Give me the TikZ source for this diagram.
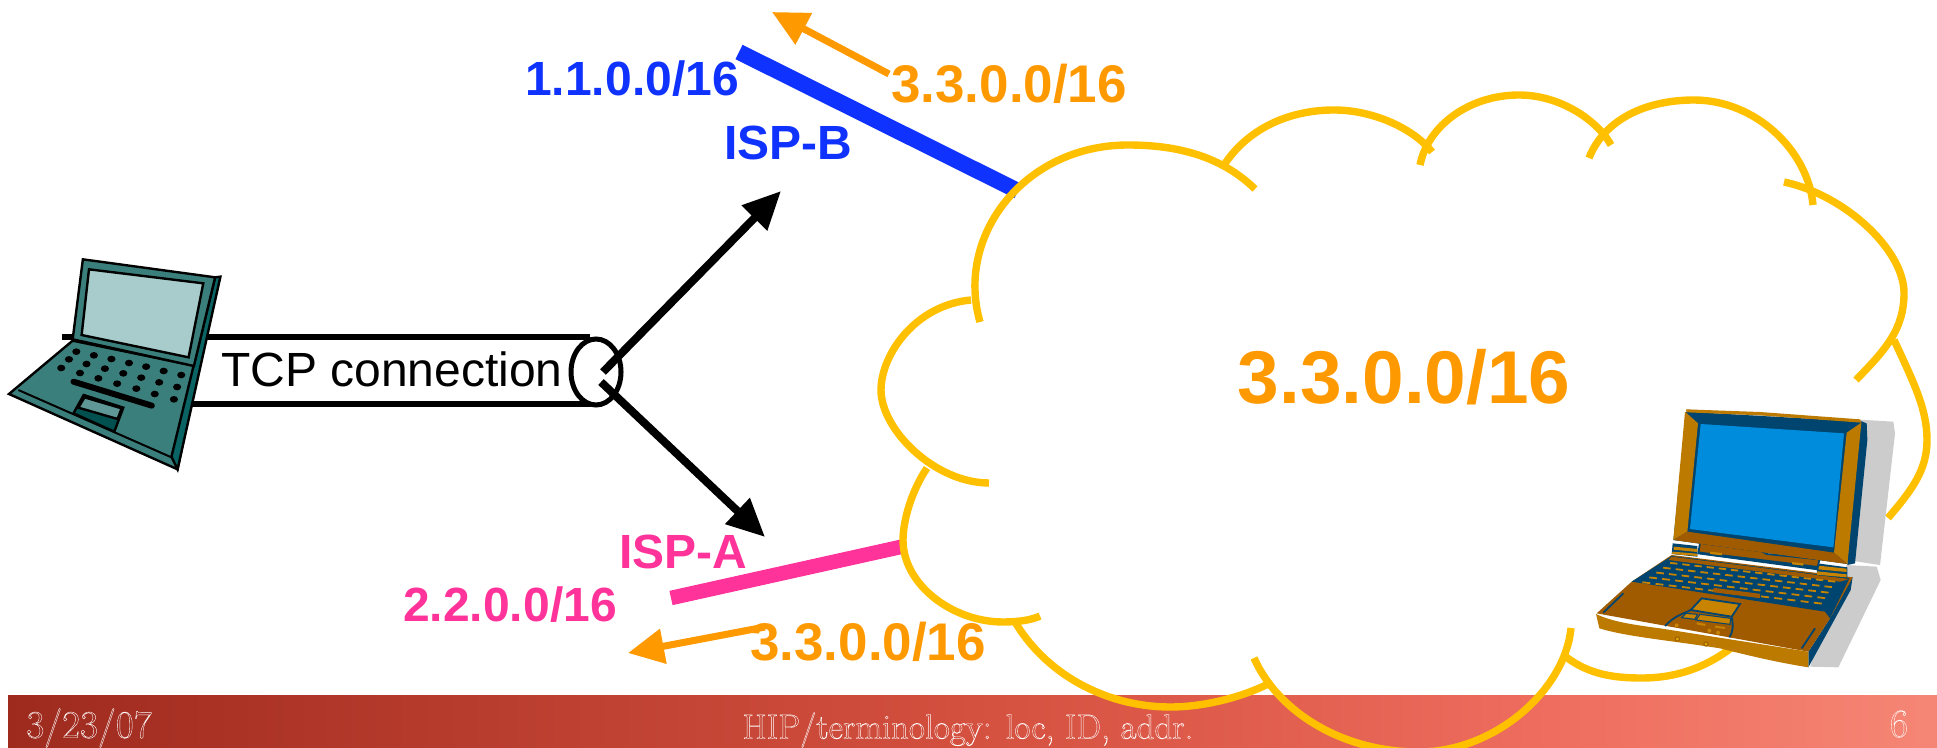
\documentclass[tikz,border=0pt]{standalone}
\usepackage{fontspec}
\usetikzlibrary{arrows.meta,shapes.geometric}
\newfontfamily\arialf{Liberation Sans}
\newfontfamily\footf{Latin Modern Roman}
\definecolor{cloudc}{HTML}{FFC000}
\definecolor{orangec}{HTML}{FF9900}
\definecolor{bluec}{HTML}{0F32FF}
\definecolor{pinkc}{HTML}{FF3399}
\definecolor{foota}{HTML}{9E2A1E}
\definecolor{footb}{HTML}{D4503F}
\definecolor{footc}{HTML}{EE6D5E}
\definecolor{footd}{HTML}{F58675}
\pgfdeclarehorizontalshading{footbar}{100bp}{color(0bp)=(foota); color(25bp)=(foota); color(50bp)=(footb); color(65bp)=(footc); color(75bp)=(footd); color(100bp)=(footd)}
\definecolor{tealc}{HTML}{3B7F7D}
\definecolor{tealside}{HTML}{0A6464}
\definecolor{tealdark}{HTML}{005050}
\definecolor{teallite}{HTML}{5F9797}
\definecolor{screenl}{HTML}{A8CCCC}
\definecolor{goldc}{HTML}{BC7A00}
\definecolor{brownc}{HTML}{A05A00}
\definecolor{navyc}{HTML}{00456F}
\definecolor{screenr}{HTML}{008CDC}
\definecolor{shadowc}{HTML}{CCCCCC}
\definecolor{keyc}{HTML}{C88400}
\newcommand{\hollow}[1]{\special{pdf:code 1 Tr 0.2 w}#1\special{pdf:code 0 Tr}}
\tikzset{
  cloudarc/.style={draw=cloudc,line width=3.7pt,line cap=butt},
  isp/.style={inner sep=0pt,font=\arialf\fontsize{24pt}{26pt}\selectfont\bfseries},
  addr/.style={isp,text=orangec,font=\arialf\fontsize{26.5pt}{28pt}\selectfont\bfseries},
  footlabel/.style={inner sep=0pt,text=white,font=\footf\fontsize{17.5pt}{20pt}\selectfont},
  tube/.style={draw=black,line width=3pt},
  blackarrow/.style={draw=black,line width=4pt,-{Triangle[length=19pt,width=17pt]}},
  orangearrow/.style={draw=orangec,line width=3.5pt,-{Triangle[length=18pt,width=17pt]}},
  ink/.style={draw=black,line width=1.2pt,line join=miter},
  nv/.style={draw=navyc,line width=0.5pt},
}
\begin{document}
\begin{tikzpicture}[x=0.5pt,y=-0.5pt]
\useasboundingbox (0,0) rectangle (1937,748);
\clip (0,0) rectangle (1937,748);
% footer
\shade[shading=footbar] (8,695) rectangle (1937,748);
\node[footlabel,font=\footf\fontsize{19.5pt}{21pt}\selectfont] (fdate) at (89,728) {\hollow{3/23/07}};
\node[footlabel] (ftitle) at (968,730) {\hollow{HIP/terminology: loc, ID, addr.}};
\node[footlabel,font=\footf\fontsize{20pt}{22pt}\selectfont] (fnum) at (1899,724) {\hollow{6}};
% ISP lines
\coordinate (bl1) at (739,52); \coordinate (bl2) at (1018,191);
\coordinate (pk1) at (671,598); \coordinate (pk2) at (905,546);
\draw[draw=bluec,line width=8pt] (bl1) -- (bl2);
\draw[draw=pinkc,line width=7.3pt] (pk1) -- (pk2);
% cloud
\draw[cloudarc] (980,322) .. controls (955,235) and (1025,145) .. (1128,145) .. controls (1175,145) and (1220,155) .. (1255,189);
\draw[cloudarc] (1224,165) .. controls (1247,130) and (1287,110) .. (1334,110) .. controls (1375,110) and (1415,130) .. (1432,152);
\draw[cloudarc] (1420,165) .. controls (1428,125) and (1470,95) .. (1519,95) .. controls (1560,95) and (1597,120) .. (1611,145);
\draw[cloudarc] (1589,158) .. controls (1604,120) and (1645,100) .. (1694,100) .. controls (1755,100) and (1808,150) .. (1813,205);
\draw[cloudarc] (1784,182) .. controls (1845,195) and (1904,250) .. (1904,293) .. controls (1904,330) and (1885,350) .. (1856,380);
\draw[cloudarc] (1894,340) .. controls (1915,385) and (1927,410) .. (1927,440) .. controls (1927,470) and (1912,490) .. (1888,518);
\draw[cloudarc] (971,300) .. controls (915,305) and (881,355) .. (881,390) .. controls (881,430) and (935,483) .. (989,483);
\draw[cloudarc] (927,468) .. controls (912,490) and (903,520) .. (903,540) .. controls (903,585) and (953,622) .. (1003,622) .. controls (1018,622) and (1032,620) .. (1040,616);
\draw[cloudarc] (1015,622) .. controls (1050,680) and (1113,707) .. (1170,707) .. controls (1208,707) and (1247,695) .. (1270,683);
\draw[cloudarc] (1254,658) .. controls (1277,710) and (1340,752) .. (1419,752) .. controls (1495,752) and (1565,690) .. (1571,628);
\draw[cloudarc] (1566,657) .. controls (1590,675) and (1615,678) .. (1642,678) .. controls (1680,678) and (1710,665) .. (1735,645);
% tube
\coordinate (tl1) at (62,337); \coordinate (tl2) at (590,337);
\coordinate (bt1) at (180,404); \coordinate (bt2) at (590,404);
\draw[tube] (tl1) -- (tl2);
\draw[tube] (bt1) -- (bt2);
\node[draw=black,fill=white,line width=2.5pt,ellipse,inner sep=0pt,minimum width=25pt,minimum height=33pt] (tubeend) at (596,372) {};
\node[inner sep=0pt,font=\arialf\fontsize{24pt}{26pt}\selectfont] (tcp) at (392,369) {TCP connection};
% arrows
\coordinate (upS) at (603,372); \coordinate (upT) at (781,191);
\coordinate (dnS) at (601,382); \coordinate (dnT) at (765,537);
\draw[blackarrow] (upS) -- (upT);
\draw[blackarrow] (dnS) -- (dnT);
\coordinate (o1S) at (889,74); \coordinate (o1T) at (772,12);
\coordinate (o2S) at (765,627); \coordinate (o2T) at (628,653);
\draw[orangearrow] (o1S) -- (o1T);
\draw[orangearrow] (o2S) -- (o2T);
% labels
\node[addr] (a1) at (1009,84) {3.3.0.0/16};
\node[isp,text=bluec] (b1) at (632,79) {1.1.0.0/16};
\node[isp,text=bluec] (b2) at (788,143) {ISP-B};
\node[isp,text=pinkc] (p1) at (683,552) {ISP-A};
\node[isp,text=pinkc] (p2) at (510,605) {2.2.0.0/16};
\node[addr] (a2) at (868,642) {3.3.0.0/16};
\node[inner sep=0pt,text=orangec,font=\arialf\fontsize{37.4pt}{40pt}\selectfont\bfseries] (big) at (1404,377) {3.3.0.0/16};
% left laptop (zoom coordinates)
\begin{scope}[shift={(0,240)},x=0.2041pt,y=-0.16667pt]
\path[ink,fill=tealc] (178,302) -- (487,380) -- (435,688) -- (22,462) -- cycle;
\path[ink,fill=tealside] (527,112) -- (540,110) -- (435,688) -- (420,650) -- cycle;
\draw[black,line width=1pt] (45,450) -- (420,652);
\path[ink,fill=tealc] (203,58) -- (527,112) -- (475,378) -- (178,298) -- cycle;
\path[ink,fill=screenl] (218,88) -- (498,130) -- (462,352) -- (200,285) -- cycle;
\foreach \a/\b in {187/335,230/346,273/357,316/369,358/380,401/393,444/405,169/358,212/372,257/386,302/400,346/413,390/427,434/441,150/384,196/399,241/415,287/431,334/446,379/462,426/478}
  \fill[black] (\a,\b) ellipse (10 and 10);
\draw[black,line width=3pt,line cap=round] (180,425) -- (372,497);
\path[ink,fill=tealdark] (205,465) -- (302,503) -- (280,575) -- (180,520) -- cycle;
\path[ink,fill=teallite] (207,472) -- (298,505) -- (288,537) -- (192,503) -- cycle;
\end{scope}
% right laptop (zoom coordinates)
\begin{scope}[shift={(1560,380)},x=0.16667pt,y=-0.16667pt]
\fill[shadowc] (380,88) -- (1000,125) -- (1005,160) -- (960,555) -- (860,540) -- cycle;
\fill[shadowc] (860,555) -- (950,560) -- (962,600) -- (835,862) -- (750,860) -- cycle;
% base
\fill[navyc] (878,590) -- (872,630) -- (745,862) -- (745,815) -- (810,715) -- cycle;
\fill[brownc] (110,700) -- (215,605) -- (335,525) -- (878,592) -- (810,715) -- (745,815) -- cycle;
\fill[navyc] (215,605) -- (335,528) -- (868,595) -- (810,715) -- (795,695) -- (325,622) -- cycle;
\fill[brownc] (335,530) -- (868,597) -- (840,605) -- (325,540) -- cycle;
\foreach \r in {0,...,4}{
  \pgfmathsetmacro{\xl}{325-21*\r}
  \pgfmathsetmacro{\yl}{548+14.5*\r}
  \pgfmathsetmacro{\xr}{835-10*\r}
  \pgfmathsetmacro{\yr}{606+16.5*\r}
  \foreach \c in {0,...,13}{
    \pgfmathsetmacro{\ax}{\xl+(\xr-\xl)*(\c+0.15)/14}
    \pgfmathsetmacro{\ay}{\yl+(\yr-\yl)*(\c+0.15)/14}
    \pgfmathsetmacro{\bx}{\xl+(\xr-\xl)*(\c+0.75)/14}
    \pgfmathsetmacro{\by}{\yl+(\yr-\yl)*(\c+0.75)/14}
    \draw[keyc,line width=0.9pt] (\ax,\ay) -- (\bx,\by);
  }
}
\draw[brownc,line width=2.2pt] (460,630) -- (600,648);
\draw[navyc,line width=0.9pt] (130,698) -- (190,640);
\draw[navyc,line width=0.9pt] (725,805) -- (765,745);
\draw[navyc,line width=0.9pt] (315,738) .. controls (345,705) and (375,700) .. (392,690);
\draw[navyc,line width=0.9pt] (515,712) .. controls (520,735) and (520,755) .. (508,772);
\path[nv,line width=0.9pt,fill=keyc] (425,655) -- (540,672) -- (515,710) -- (392,690) -- cycle;
\path[nv,fill=keyc] (378,700) -- (412,703) -- (405,718) -- (365,713) -- cycle;
\path[nv,fill=keyc] (420,703) -- (512,715) -- (510,733) -- (408,720) -- cycle;
\foreach \a/\b in {350/736,448/752,474/758}
  \fill[keyc] (\a,\b) circle (6);
\draw[keyc,line width=1pt] (410,730) -- (436,735);
\draw[keyc,line width=1pt] (465,740) -- (495,744);
% front edge
\fill[goldc] (108,702) .. controls (150,722) and (200,732) .. (300,745) -- (745,815) -- (745,862) .. controls (640,845) and (560,825) .. (480,805) .. controls (320,780) and (200,770) .. (118,745) -- cycle;
\foreach \a/\b in {352/777,438/792}
  \fill[brownc] (\a,\b) circle (8);
\foreach \a/\b in {352/777,438/792}
  \fill[keyc!70!yellow] (\a,\b) circle (5);
% hinges
\fill[navyc] (338,490) -- (412,498) -- (412,530) -- (335,522) -- cycle;
\fill[keyc] (342,500) -- (412,507) -- (412,516) -- (340,509) -- cycle;
\fill[keyc] (338,515) -- (412,521) -- (412,528) -- (335,522) -- cycle;
\fill[navyc] (772,550) -- (862,562) -- (862,595) -- (770,585) -- cycle;
\fill[keyc] (775,557) -- (860,566) -- (860,576) -- (773,568) -- cycle;
\fill[keyc] (772,574) -- (860,583) -- (860,592) -- (770,584) -- cycle;
\path[nv,line width=0.9pt,fill=brownc] (420,488) -- (550,505) .. controls (580,500) and (600,510) .. (620,522) -- (778,538) -- (772,568) -- (415,520) -- cycle;
\fill[navyc] (418,515) -- (772,558) -- (772,568) -- (415,522) -- cycle;
\fill[keyc] (450,515) -- (486,519) -- (486,526) -- (450,522) -- cycle;
\fill[keyc] (696,546) -- (730,550) -- (730,557) -- (696,553) -- cycle;
% lid
\fill[navyc] (895,120) -- (920,130) -- (922,180) -- (885,550) -- (862,555) -- cycle;
\fill[navyc] (378,95) -- (902,125) -- (862,552) -- (340,480) -- cycle;
\fill[goldc] (378,88) -- (600,96) -- (900,118) -- (904,128) -- (600,106) -- (380,97) -- cycle;
\fill[goldc] (375,95) -- (414,130) -- (382,455) -- (340,480) -- cycle;
\fill[goldc] (904,128) -- (860,158) -- (822,518) -- (862,552) -- cycle;
\fill[brownc] (382,455) -- (822,518) -- (862,552) -- (340,480) -- cycle;
\fill[screenr] (422,132) -- (852,160) -- (820,502) -- (390,447) -- cycle;
\end{scope}
\end{tikzpicture}
\end{document}
